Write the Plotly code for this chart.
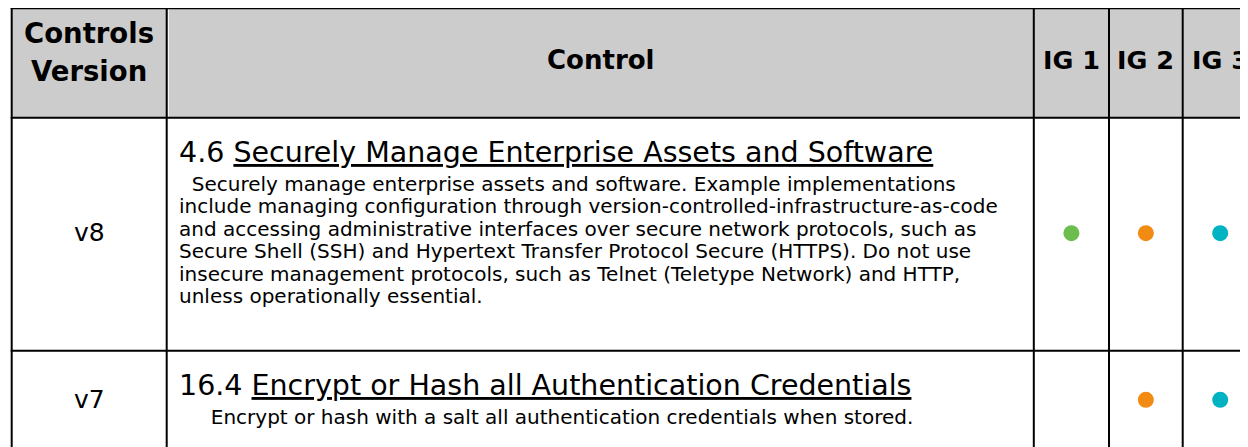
import plotly.graph_objects as go

# ---------------- data ----------------
headers = ["Controls<br>Version", "Control", "IG 1", "IG 2", "IG 3"]
versions = ["v8", "v7"]
control_ids = ["4.6", "16.4"]
control_titles = [
    "Securely Manage Enterprise Assets and Software",
    "Encrypt or Hash all Authentication Credentials",
]
descriptions = [
    [
        "\u00a0\u00a0Securely manage enterprise assets and software. Example implementations",
        "include managing configuration through version-controlled-infrastructure-as-code",
        "and accessing administrative interfaces over secure network protocols, such as",
        "Secure Shell (SSH) and Hypertext Transfer Protocol Secure (HTTPS). Do not use",
        "insecure management protocols, such as Telnet (Teletype Network) and HTTP,",
        "unless operationally essential.",
    ],
    [
        "\u00a0\u00a0\u00a0\u00a0\u00a0Encrypt or hash with a salt all authentication credentials when stored.",
    ],
]
ig1 = [True, False]
ig2 = [True, True]
ig3 = [True, True]
ig_colors = ["#6cbd4e", "#f28b13", "#00b3c3"]

# ---------------- layout constants ----------------
W, H = 1248, 447
OFF = 8  # the page body margin shifts the figure by 8px
COL_EDGES = [v - OFF for v in [11.7, 166.7, 1033.8, 1109.0, 1182.7, 1257.7]]
ROW_EDGES = [v - OFF for v in [8.3, 117.7, 350.7, 451.0]]
FONT = "DejaVu Sans"
HEADER_FILL = "#cccccc"
LINE_W = 2

fig = go.Figure()
shapes = []
annotations = []

# header fill
shapes.append(dict(type="rect", xref="x", yref="y", x0=COL_EDGES[0], x1=COL_EDGES[-1],
                   y0=ROW_EDGES[0], y1=ROW_EDGES[1], fillcolor=HEADER_FILL,
                   line=dict(width=0), layer="below"))
# thin white gap at the start of the "Control" header cell
shapes.append(dict(type="line", xref="x", yref="y", x0=COL_EDGES[1] + 1.6, x1=COL_EDGES[1] + 1.6,
                   y0=ROW_EDGES[0], y1=ROW_EDGES[1], line=dict(color="white", width=1)))
# grid lines
for y in ROW_EDGES:
    shapes.append(dict(type="line", xref="x", yref="y", x0=COL_EDGES[0] - 1, x1=COL_EDGES[-1] + 1,
                       y0=y, y1=y, line=dict(color="black", width=LINE_W)))
for x in COL_EDGES:
    shapes.append(dict(type="line", xref="x", yref="y", x0=x, x1=x,
                       y0=ROW_EDGES[0] - 1, y1=ROW_EDGES[-1] + 1, line=dict(color="black", width=LINE_W)))

col_centers = [(COL_EDGES[i] + COL_EDGES[i + 1]) / 2 for i in range(len(COL_EDGES) - 1)]
row_centers = [(ROW_EDGES[i] + ROW_EDGES[i + 1]) / 2 for i in range(len(ROW_EDGES) - 1)]

# header texts
hdr_mid = row_centers[0]
for ci, h in enumerate(headers):
    parts = h.split("<br>")
    if len(parts) == 1:
        size = 26 if ci == 1 else 25.5
        annotations.append(dict(x=col_centers[ci], y=hdr_mid - 3.5, text="<b>%s</b>" % h,
                                showarrow=False, xanchor="center", yanchor="middle",
                                font=dict(family=FONT, size=size, color="black"), borderpad=0))
    else:
        gap = 38.5
        y0 = hdr_mid - 11.25 - gap / 2 * (len(parts) - 1)
        for k, p in enumerate(parts):
            annotations.append(dict(x=col_centers[ci], y=y0 + k * gap, text="<b>%s</b>" % p,
                                    showarrow=False, xanchor="center", yanchor="middle",
                                    font=dict(family=FONT, size=27.5, color="black"), borderpad=0))

# body rows
TEXT_X = COL_EDGES[1] + 11.3
for ri in range(len(versions)):
    top = ROW_EDGES[ri + 1]
    annotations.append(dict(x=col_centers[0], y=row_centers[ri + 1] - 1.5, text=versions[ri],
                            showarrow=False, xanchor="center", yanchor="middle",
                            font=dict(family=FONT, size=25, color="black"), borderpad=0))
    annotations.append(dict(x=TEXT_X, y=top + 34.3,
                            text="%s <u>%s</u>" % (control_ids[ri], control_titles[ri]),
                            showarrow=False, xanchor="left", yanchor="middle",
                            font=dict(family=FONT, size=28.5, color="black"), borderpad=0))
    for li, line in enumerate(descriptions[ri]):
        annotations.append(dict(x=TEXT_X, y=top + 66.3 + li * 22.4, text=line,
                                showarrow=False, xanchor="left", yanchor="middle",
                                font=dict(family=FONT, size=20, color="black"), borderpad=0))

# IG dots
for gi, flags in enumerate([ig1, ig2, ig3]):
    xs = [col_centers[2 + gi] for f in flags if f]
    ys = [row_centers[1 + r] - 1 for r, f in enumerate(flags) if f]
    fig.add_trace(go.Scatter(x=xs, y=ys, mode="markers", name=headers[2 + gi],
                             marker=dict(size=16, color=ig_colors[gi], line=dict(width=0)),
                             hoverinfo="skip", showlegend=False))

fig.update_layout(
    width=W, height=H, margin=dict(l=0, r=0, t=0, b=0),
    paper_bgcolor="white", plot_bgcolor="white",
    xaxis=dict(range=[0, W], visible=False, fixedrange=True),
    yaxis=dict(range=[H, 0], visible=False, fixedrange=True),
    shapes=shapes, annotations=annotations, showlegend=False,
)

fig.write_html("out.html")
